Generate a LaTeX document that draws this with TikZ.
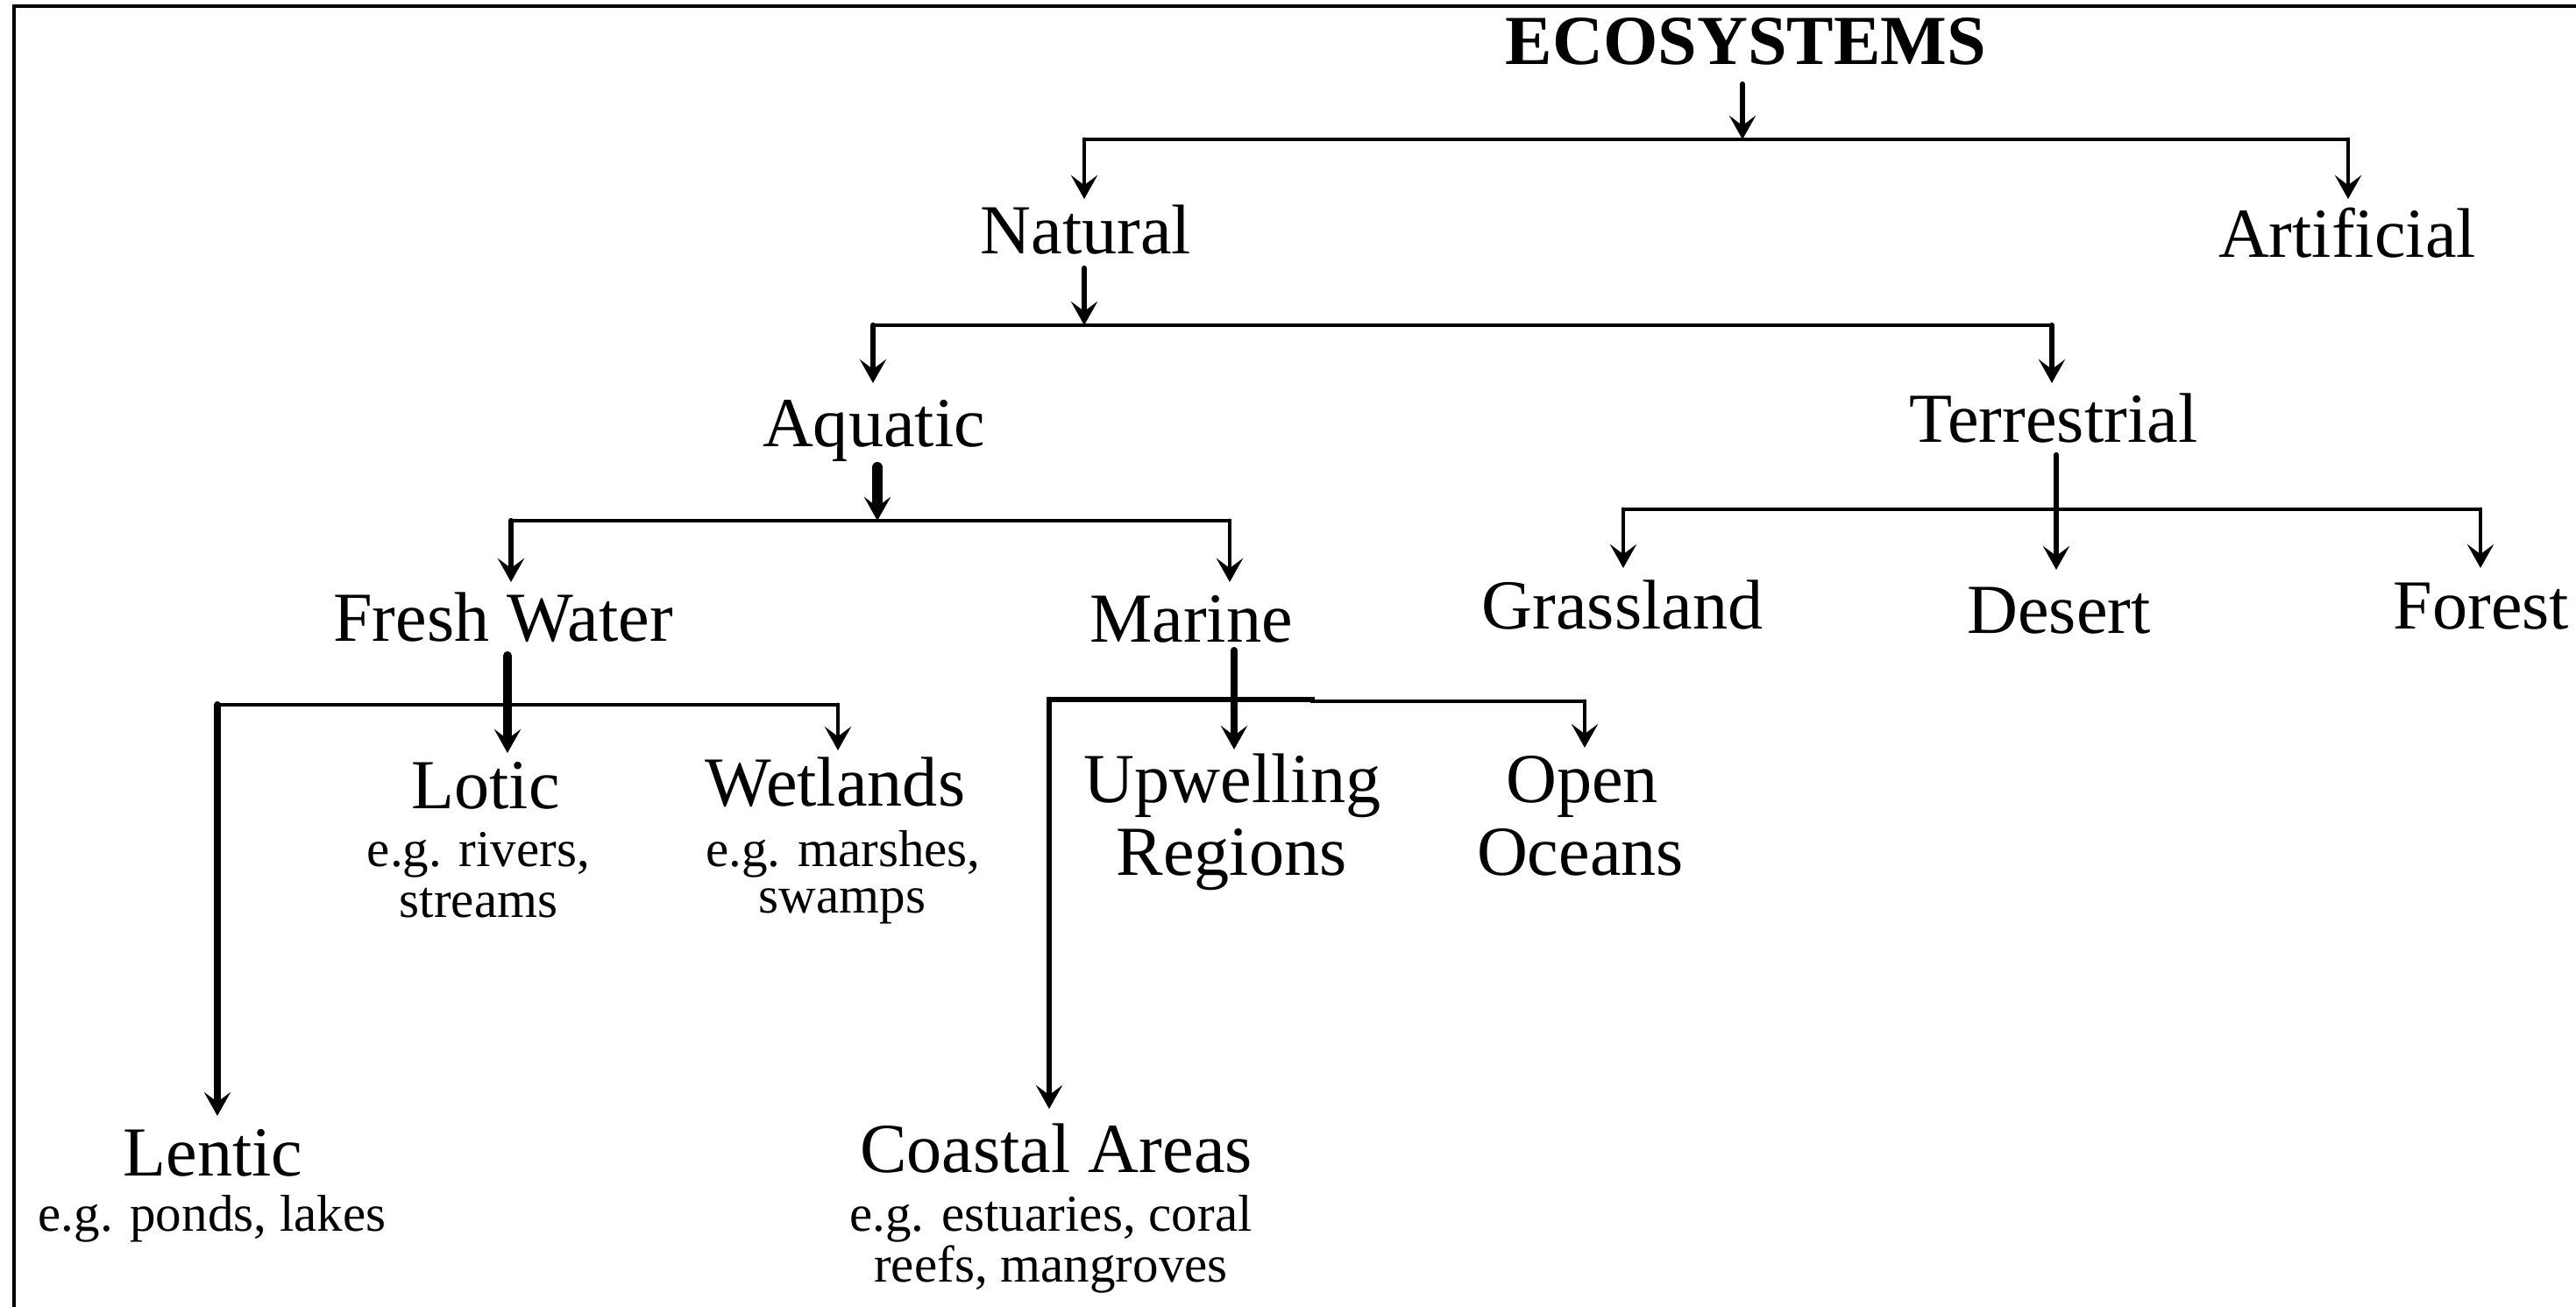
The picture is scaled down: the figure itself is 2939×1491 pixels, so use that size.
\documentclass[tikz,border=0pt]{standalone}
\usepackage{fontspec}
\setmainfont{Liberation Serif}
\usetikzlibrary{arrows.meta}
\tikzset{
  lbl/.style={anchor=base, inner sep=0pt, font=\fontsize{22.8}{27}\selectfont},
  sub/.style={anchor=base, inner sep=0pt, font=\fontsize{16.8}{20}\selectfont},
  ttl/.style={anchor=base, inner sep=0pt, font=\fontsize{22.8}{27}\selectfont\bfseries},
  bar/.style={line width=1pt, line cap=rect},
  arr/.style={line cap=round, -{Stealth[length=7.7pt, width=8.6pt, inset=3.2pt]}},
  w1/.style={line width=1.4pt},
  w2/.style={line width=1.8pt},
  w3/.style={line width=2.3pt},
  w4/.style={line width=2.9pt},
  w5/.style={line width=3.4pt},
}
\begin{document}
\begin{tikzpicture}[x=0.01cm, y=-0.01cm]
\useasboundingbox (0,0) rectangle (2939,1491);
\draw[line width=0.9pt] (16,1500) -- (16,7) -- (2950,7);

% nodes
\node[ttl] (eco) at (1992,74) {ECOSYSTEMS};
\node[lbl] (nat) at (1239,289) {Natural};
\node[lbl] (art) at (2678,294) {Artificial};
\node[lbl] (aqu) at (997,509) {Aquatic};
\node[lbl] (ter) at (2343,504) {Terrestrial};
\node[lbl] (fw) at (574,731) {Fresh Water};
\node[lbl] (mar) at (1359,732) {Marine};
\node[lbl] (gra) at (1851,717) {Grassland};
\node[lbl] (des) at (2349,722) {Desert};
\node[lbl] (for) at (2831,717) {Forest};
\node[lbl] (lot) at (554,922) {Lotic};
\node[sub] (lot1) at (546,988) {e.g. rivers,};
\node[sub] (lot2) at (546,1046) {streams};
\node[lbl] (wet) at (953,919) {Wetlands};
\node[sub] (wet1) at (962,988) {e.g. marshes,};
\node[sub] (wet2) at (961,1041) {swamps};
\node[lbl] (upw) at (1406,915) {Upwelling};
\node[lbl] (upw2) at (1405,998) {Regions};
\node[lbl] (ope) at (1805,915) {Open};
\node[lbl] (ope2) at (1803,998) {Oceans};
\node[lbl] (len) at (243,1341) {Lentic};
\node[sub] (len1) at (242,1404) {e.g. ponds, lakes};
\node[lbl] (coa) at (1205,1337) {Coastal Areas};
\node[sub] (coa1) at (1199,1404) {e.g. estuaries, coral};
\node[sub] (coa2) at (1199,1462) {reefs, mangroves};

% junction coordinates
\coordinate (eco-out) at (1988,96);
\coordinate (b1) at (1988,159);
\coordinate (b1-l) at (1237,159);
\coordinate (b1-r) at (2679,159);
\coordinate (nat-in) at (1237,227);
\coordinate (art-in) at (2679,227);

\coordinate (nat-out) at (1237,306);
\coordinate (b2) at (1237,371);
\coordinate (b2-l) at (996,371);
\coordinate (b2-r) at (2341,371);
\coordinate (aqu-in) at (996,437);
\coordinate (ter-in) at (2341,437);

\coordinate (aqu-out) at (1001,533);
\coordinate (b3) at (1001,594);
\coordinate (b3-l) at (583,594);
\coordinate (b3-r) at (1403,594);
\coordinate (fw-in) at (583,664);
\coordinate (mar-in) at (1403,664);

\coordinate (ter-out) at (2346,519);
\coordinate (des-in) at (2346,650);
\coordinate (b4-l) at (1852,581);
\coordinate (b4-r) at (2830,581);
\coordinate (gra-in) at (1852,648);
\coordinate (for-in) at (2830,648);

\coordinate (fw-out) at (579,748);
\coordinate (lot-in) at (579,859);
\coordinate (b5-l) at (248,804);
\coordinate (b5-r) at (956,804);
\coordinate (wet-in) at (956,856);
\coordinate (len-in) at (248,1273);

\coordinate (mar-out) at (1408,742);
\coordinate (upw-in) at (1408,855);
\coordinate (b6-l) at (1197,798);
\coordinate (b6-m) at (1497,798);
\coordinate (b6-m2) at (1497,800);
\coordinate (b6-r) at (1808,800);
\coordinate (ope-in) at (1808,853);
\coordinate (coa-in) at (1197,1265);

% bars
\draw[bar] (b1-l) -- (b1-r);
\draw[bar] (b2-l) -- (b2-r);
\draw[bar] (b3-l) -- (b3-r);
\draw[bar] (b4-l) -- (b4-r);
\draw[bar, line width=1.15pt] (b5-l) -- (b5-r);
\draw[bar, line width=1.9pt] (b6-l) -- (b6-m);
\draw[bar] (b6-m2) -- (b6-r);

% arrows
\draw[arr, w2] (eco-out) -- (b1);
\draw[arr, w1] (b1-l) -- (nat-in);
\draw[arr, w1] (b1-r) -- (art-in);
\draw[arr, w2] (nat-out) -- (b2);
\draw[arr, w2] (b2-l) -- (aqu-in);
\draw[arr, w2] (b2-r) -- (ter-in);
\draw[arr, w5] (aqu-out) -- (b3);
\draw[arr, w2] (b3-l) -- (fw-in);
\draw[arr, w1] (b3-r) -- (mar-in);
\draw[arr, w2] (ter-out) -- (des-in);
\draw[arr, w1] (b4-l) -- (gra-in);
\draw[arr, w1] (b4-r) -- (for-in);
\draw[arr, w4] (fw-out) -- (lot-in);
\draw[arr, w1] (b5-r) -- (wet-in);
\draw[arr, w3] (b5-l) -- (len-in);
\draw[arr, w3] (mar-out) -- (upw-in);
\draw[arr, w1] (b6-r) -- (ope-in);
\draw[arr, w2] (b6-l) -- (coa-in);
\end{tikzpicture}
\end{document}
